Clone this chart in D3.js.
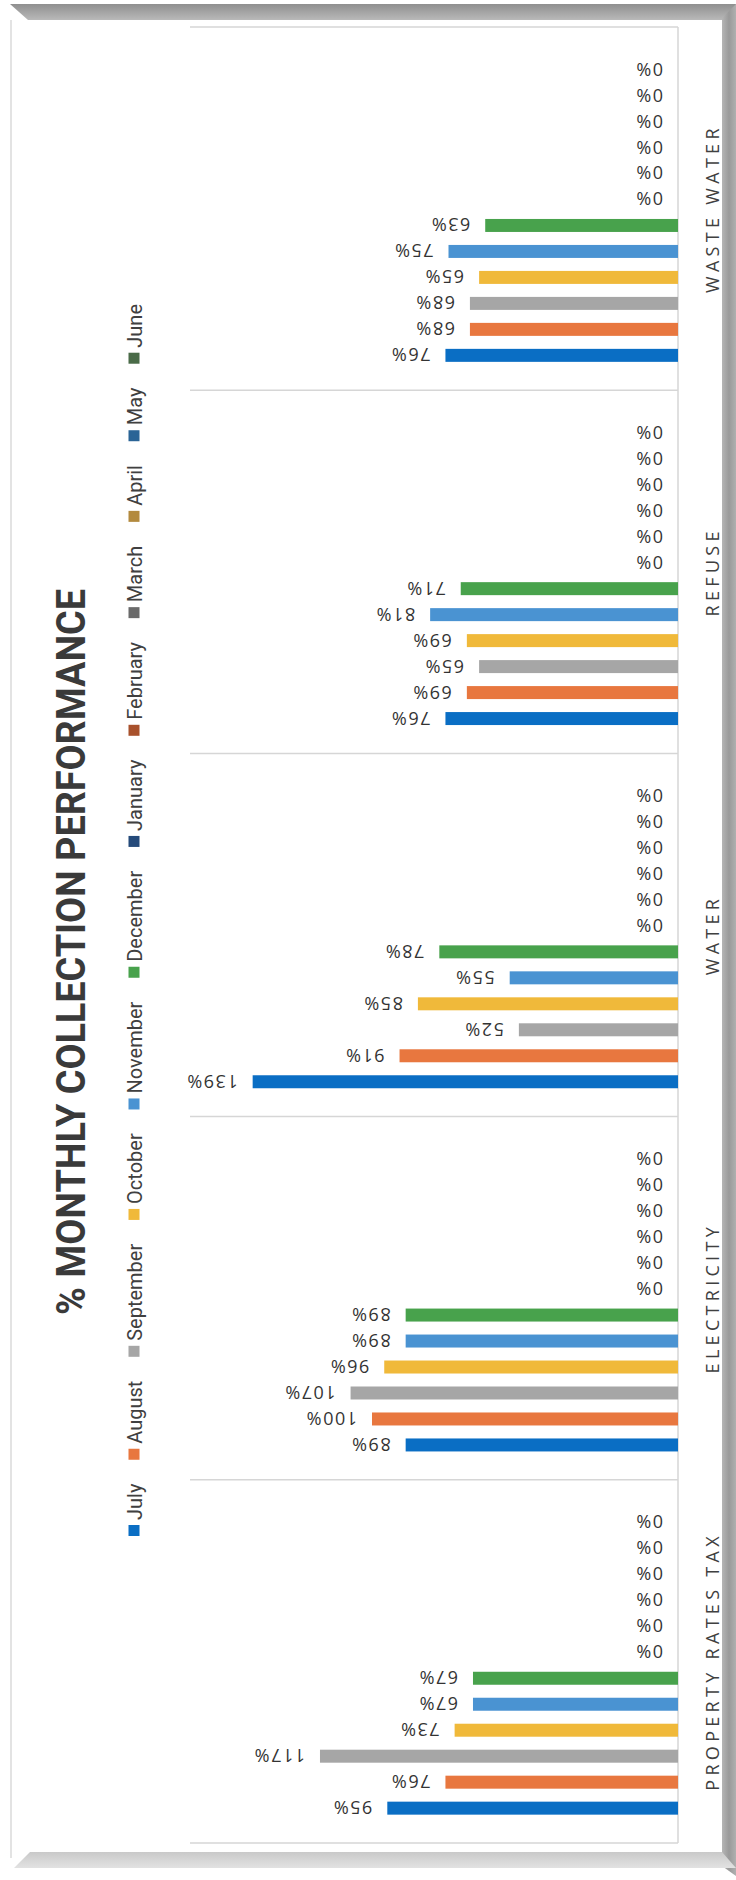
<!DOCTYPE html>
<html>
<head>
<meta charset="utf-8">
<script src="https://cdn.jsdelivr.net/npm/d3@7"></script>
<style>
  html, body { margin: 0; padding: 0; background: #ffffff; }
  svg { display: block; }
</style>
</head>
<body>
<svg id="chart" width="736" height="1880"></svg>
<script>
// ---- data -------------------------------------------------------------
const chartTitle = "% MONTHLY COLLECTION PERFORMANCE";
const categories = ["WASTE WATER", "REFUSE", "WATER", "ELECTRICITY", "PROPERTY RATES TAX"];
const months = ["July", "August", "September", "October", "November", "December",
                "January", "February", "March", "April", "May", "June"];
const monthColors = ["#0a6ec4", "#e8773f", "#a6a6a6", "#f0b93a", "#4a93d2", "#48a24c",
                     "#254a7a", "#a8512c", "#6a6a6a", "#b38a3e", "#2a6496", "#4a6b48"];

// collection performance (%) per service, July .. June
const wasteWater       = [76, 68, 68, 65, 75, 63, 0, 0, 0, 0, 0, 0];
const refuse           = [76, 69, 65, 69, 81, 71, 0, 0, 0, 0, 0, 0];
const water            = [139, 91, 52, 85, 55, 78, 0, 0, 0, 0, 0, 0];
const electricity      = [89, 100, 107, 96, 89, 89, 0, 0, 0, 0, 0, 0];
const propertyRatesTax = [95, 76, 117, 73, 67, 67, 0, 0, 0, 0, 0, 0];

const seriesByCategory = [wasteWater, refuse, water, electricity, propertyRatesTax];

// ---- layout -------------------------------------------------------------
const W = 736, H = 1880;
const plot = { left: 190, right: 678, top: 27, bottom: 1843 };

const svg = d3.select("#chart");
const defs = svg.append("defs");

const gTop = defs.append("linearGradient").attr("id", "bandTop")
  .attr("x1", 0).attr("y1", 0).attr("x2", 0).attr("y2", 1);
gTop.append("stop").attr("offset", "0%").attr("stop-color", "#8f8f8f");
gTop.append("stop").attr("offset", "100%").attr("stop-color", "#b9b9b9");

const gRight = defs.append("linearGradient").attr("id", "bandRight")
  .attr("x1", 0).attr("y1", 0).attr("x2", 1).attr("y2", 0);
gRight.append("stop").attr("offset", "0%").attr("stop-color", "#b5b5b5");
gRight.append("stop").attr("offset", "50%").attr("stop-color", "#9a9a9a");
gRight.append("stop").attr("offset", "100%").attr("stop-color", "#b0b0b0");

const gBottom = defs.append("linearGradient").attr("id", "bandBottom")
  .attr("x1", 0).attr("y1", 0).attr("x2", 0).attr("y2", 1);
gBottom.append("stop").attr("offset", "0%").attr("stop-color", "#c9c9c9");
gBottom.append("stop").attr("offset", "100%").attr("stop-color", "#e2e2e2");

// page frame with bevelled shadow edges
svg.append("rect").attr("width", W).attr("height", H).attr("fill", "#ffffff");
svg.append("line").attr("x1", 11).attr("x2", 11).attr("y1", 20).attr("y2", 1858)
  .attr("stroke", "#e3e3e3").attr("stroke-width", 2);
svg.append("polygon").attr("points", "10,4 736,4 736,20 28,20").attr("fill", "url(#bandTop)");
svg.append("polygon").attr("points", "722,18 736,4 736,1876 722,1866").attr("fill", "url(#bandRight)");
svg.append("polygon").attr("points", "30,1852 722,1852 736,1868 14,1868").attr("fill", "url(#bandBottom)");

// ---- scales -------------------------------------------------------------
const yCat = d3.scaleBand().domain(categories).range([plot.top, plot.bottom]);
const yMonth = d3.scaleBand()
  .domain(months.slice().reverse())
  .range([0, yCat.bandwidth()])
  .paddingInner(0.5)
  .paddingOuter(1.24)
  .align(0.56);
const x = d3.scaleLinear().domain([0, 100]).range([plot.right, plot.right - 306]);
const color = d3.scaleOrdinal().domain(months).range(monthColors);

// ---- grid / frame lines -------------------------------------------------
const grid = svg.append("g").attr("stroke", "#d6d6d6").attr("stroke-width", 1.5);
grid.selectAll("line.sep")
  .data(categories.concat(["__end"]))
  .join("line")
  .attr("class", "sep")
  .attr("x1", plot.left).attr("x2", plot.right)
  .attr("y1", d => d === "__end" ? plot.bottom : yCat(d))
  .attr("y2", d => d === "__end" ? plot.bottom : yCat(d));
grid.append("line")
  .attr("x1", plot.right).attr("x2", plot.right)
  .attr("y1", plot.top).attr("y2", plot.bottom);

// ---- bars and value labels ------------------------------------------------
const rows = [];
categories.forEach((c, ci) => {
  months.forEach((m, mi) => rows.push({ category: c, month: m, value: seriesByCategory[ci][mi] }));
});

const barY = d => yCat(d.category) + yMonth(d.month);

svg.append("g").selectAll("rect")
  .data(rows.filter(d => d.value > 0))
  .join("rect")
  .attr("x", d => x(d.value))
  .attr("y", barY)
  .attr("width", d => x(0) - x(d.value))
  .attr("height", yMonth.bandwidth())
  .attr("fill", d => color(d.month));

svg.append("g").selectAll("text")
  .data(rows)
  .join("text")
  .attr("transform", d => `translate(${x(d.value) - 15},${barY(d) + yMonth.bandwidth() / 2}) rotate(180)`)
  .attr("text-anchor", "start")
  .attr("dominant-baseline", "central")
  .attr("font-family", "'Open Sans', sans-serif")
  .attr("font-size", 18)
  .attr("letter-spacing", 1.5)
  .attr("fill", "#333333")
  .text(d => d.value + "%");

// ---- category axis labels ---------------------------------------------------
svg.append("g").selectAll("text")
  .data(categories)
  .join("text")
  .attr("transform", d => `translate(712,${yCat(d) + yCat.bandwidth() / 2}) rotate(-90)`)
  .attr("text-anchor", "middle")
  .attr("dominant-baseline", "central")
  .attr("font-family", "'Open Sans', sans-serif")
  .attr("font-size", 18)
  .attr("letter-spacing", 4.3)
  .attr("fill", "#404040")
  .text(d => d);

// ---- title ------------------------------------------------------------------
svg.append("text")
  .attr("transform", "translate(71,952) rotate(-90)")
  .attr("text-anchor", "middle")
  .attr("dominant-baseline", "central")
  .attr("font-family", "Roboto, sans-serif")
  .attr("font-weight", 700)
  .attr("font-size", 41)
  .attr("textLength", 726)
  .attr("lengthAdjust", "spacingAndGlyphs")
  .attr("fill", "#3a3a3a")
  .text(chartTitle);

// ---- legend (runs bottom to top) ---------------------------------------------
const legend = svg.append("g");
const legendX = 134, swatch = 11, swatchPad = 5;
const legendStart = 1536, legendEnd = 304;
const items = legend.selectAll("g.item").data(months).join("g").attr("class", "item");
items.append("rect")
  .attr("width", swatch).attr("height", swatch)
  .attr("fill", d => color(d));
items.append("text")
  .attr("text-anchor", "start")
  .attr("dominant-baseline", "central")
  .attr("font-family", "Roboto, sans-serif")
  .attr("font-size", 20)
  .attr("fill", "#404040")
  .text(d => d);

const lengths = [];
items.select("text").each(function () { lengths.push(this.getComputedTextLength()); });
const used = d3.sum(lengths) + months.length * (swatch + swatchPad);
const gap = (legendStart - legendEnd - used) / (months.length - 1);
let cursor = legendStart;
items.each(function (d, i) {
  const g = d3.select(this);
  g.select("rect").attr("x", legendX - swatch / 2).attr("y", cursor - swatch);
  g.select("text").attr("transform", `translate(${legendX + 1},${cursor - swatch - swatchPad}) rotate(-90)`);
  cursor -= swatch + swatchPad + lengths[i] + gap;
});
</script>
</body>
</html>
